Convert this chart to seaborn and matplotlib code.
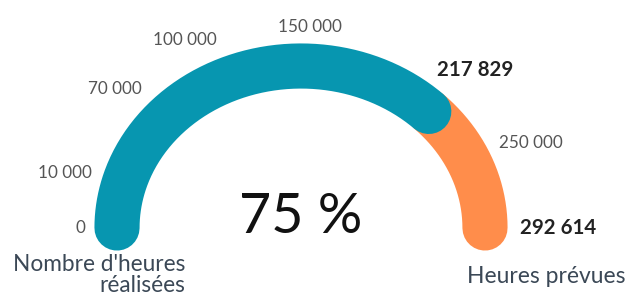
import numpy as np
import pandas as pd
import matplotlib
matplotlib.use("Agg")
import matplotlib.pyplot as plt
import seaborn as sns

# ---- data ----
total_hours = 292614
done_hours = 217829
tick_values = [0, 10000, 70000, 100000, 150000, 250000]
tick_labels = ["0", "10 000", "70 000", "100 000", "150 000", "250 000"]
done_label = "217 829"
total_label = "292 614"
pct_label = "75 %"
caption_done = "Nombre d'heures\nréalisées"
caption_total = "Heures prévues"
segments = ["Heures prévues", "Nombre d'heures réalisées"]
segment_bounds = [(done_hours, total_hours), (0, done_hours)]

# ---- style ----
sns.set_theme(style="white")
plt.rcParams["font.family"] = ["Lato", "DejaVu Sans"]
TEAL = "#0796B0"
ORANGE = "#FF8D4B"
TICK_COL = "#555555"
CAP_COL = "#3B4856"
RX, RY = 184.0, 162.0  # pixel radii of the gauge (slightly squashed)
DPI = 100

def angle(v):
    return np.pi * (1 - v / total_hours)

rows = []
for seg, (a, b) in zip(segments, segment_bounds):
    vals = np.linspace(a, b, 300)
    th = angle(vals)
    rows.append(pd.DataFrame({"x": np.cos(th), "y": np.sin(th), "segment": seg}))
df = pd.concat(rows, ignore_index=True)

fig = plt.figure(figsize=(6.3, 3.0), dpi=DPI)
ax = fig.add_axes([0, 0, 1, 1])
sns.lineplot(data=df, x="x", y="y", hue="segment", hue_order=segments,
             palette=[ORANGE, TEAL], sort=False, estimator=None, units="segment",
             lw=32.5, solid_capstyle="round", legend=False, ax=ax)

ax.set_xlim(-301 / RX, (630 - 301) / RX)
ax.set_ylim((228 - 300) / RY, 228 / RY)
ax.axis("off")

# small angular layout nudges (radians) for readability, as in the original
label_nudge = {10000: -0.15, 70000: 0.05, 250000: -0.06}
GAP_PX = 32

placed = []
def place(v, text, gap=GAP_PX, **kw):
    th = angle(v) + label_nudge.get(v, 0.0)
    c, s = np.cos(th), np.sin(th)
    ux, uy = RX * c, RY * s
    n = np.hypot(ux, uy)
    ux, uy = ux / n, uy / n
    t = ax.annotate(text, (c, s), xytext=(0, 0), textcoords="offset points",
                    ha="center", va="center", **kw)
    placed.append((t, ux, uy, gap))

for v, lab in zip(tick_values, tick_labels):
    place(v, lab, fontsize=12.3, color=TICK_COL)

place(done_hours, done_label, gap=29, fontsize=14.8, fontweight="bold", color="#222222")
place(total_hours, total_label, gap=35, fontsize=14.8, fontweight="bold", color="#222222")

fig.canvas.draw()
r = fig.canvas.get_renderer()
for t, ux, uy, gap in placed:
    bb = t.get_window_extent(r)
    hw, hh = bb.width / 2, bb.height / 2 * 0.75
    d = gap + abs(ux) * hw + abs(uy) * hh
    t.xyann = (d * ux * 72 / DPI, d * uy * 72 / DPI)

ax.text(0, -0.03, pct_label, ha="center", va="baseline", fontsize=40,
        fontweight="normal", color="#111111")

ax.annotate(caption_done, (-1, 0), xytext=(49, -19), textcoords="offset points",
            ha="right", va="top", multialignment="right", fontsize=16.3,
            color=CAP_COL, linespacing=0.95)
ax.annotate(caption_total, (1, 0), xytext=(-13, -35), textcoords="offset points",
            ha="left", va="center", fontsize=16.5, color=CAP_COL)

fig.savefig("out.png", dpi=DPI)
